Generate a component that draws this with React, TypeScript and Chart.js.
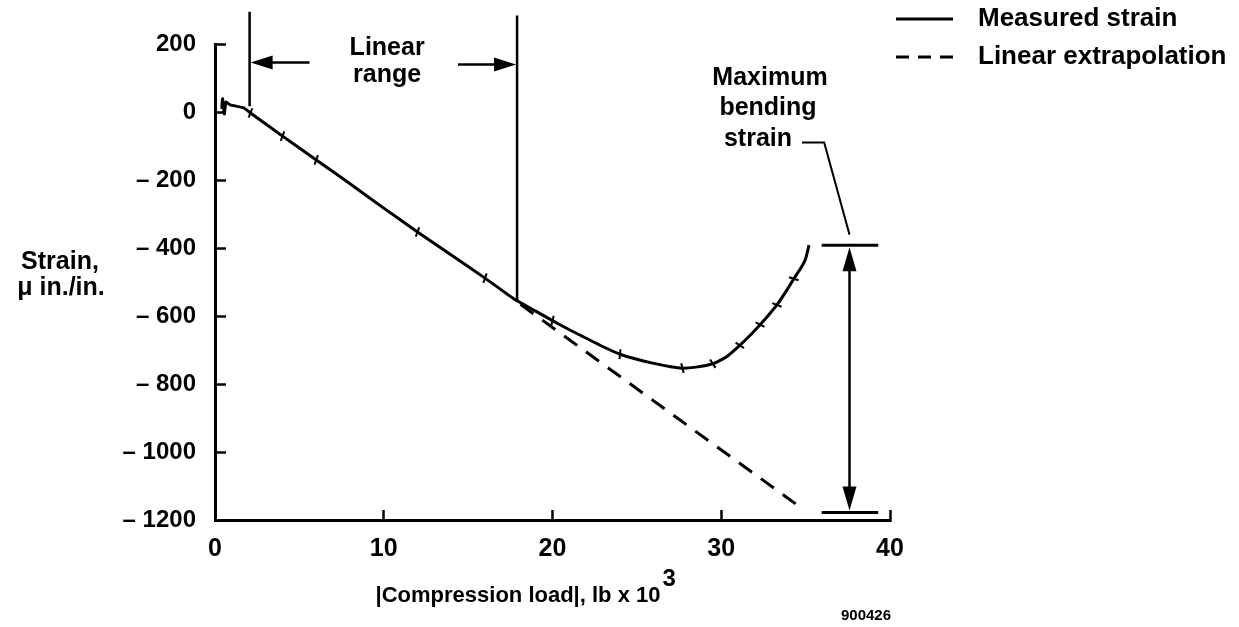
import { useEffect, useRef } from "react";
import { Chart, registerables } from "chart.js";

Chart.register(...registerables);

// Axis ticks
const loadTicks = [0, 10, 20, 30, 40];
const strainTicks = [200, 0, -200, -400, -600, -800, -1000, -1200];

// Measured strain vs |compression load| (lb x 10^3)
const measuredLoad = [
  0.4, 0.45, 0.55, 0.65, 0.9, 1.7, 2.1, 4, 6, 8, 10, 12, 14, 16, 17.8, 19, 20,
  21, 22, 23, 24, 25, 26, 27, 27.7, 28.5, 29.5, 30.3, 31.1, 31.7, 32.3, 32.8,
  33.3, 33.8, 34.3, 34.7, 35.0, 35.2,
];
const measuredStrain = [
  10, 40, -5, 30, 22, 13, -2, -70, -140, -210, -282, -352, -420, -488, -552,
  -585, -613, -640, -665, -690, -712, -727, -739, -749, -753, -750, -740, -720,
  -686, -657, -625, -597, -567, -530, -490, -460, -431, -391,
];
// Samples carrying a recorder tick mark
const markedSamples = [6, 7, 8, 11, 13, 16, 20, 24, 26, 28, 30, 32, 34];

// Linear fit of the linear range, extrapolated
const extrapLoad = [18.1, 34.7];
const extrapStrain = [-565, -1163];

// Linear range bounds (load) and the bending strain envelope (strain)
const linearRange = [2.05, 17.9];
const bendingStrainBounds = [-391, -1178];

const FONT = '"Liberation Sans", Arial, Helvetica, sans-serif';
const INK = "#000";

function arrowHead(
  ctx: CanvasRenderingContext2D,
  tipX: number,
  tipY: number,
  dx: number,
  dy: number,
  len: number,
  half: number
) {
  const bx = tipX - dx * len;
  const by = tipY - dy * len;
  ctx.beginPath();
  ctx.moveTo(tipX, tipY);
  ctx.lineTo(bx - dy * half, by + dx * half);
  ctx.lineTo(bx + dy * half, by - dx * half);
  ctx.closePath();
  ctx.fill();
}

function line(ctx: CanvasRenderingContext2D, x1: number, y1: number, x2: number, y2: number) {
  ctx.beginPath();
  ctx.moveTo(x1, y1);
  ctx.lineTo(x2, y2);
  ctx.stroke();
}

// Tick marks sit across the curve: rotate them to the local normal
function markRotation(c: any) {
  const i = c.dataIndex;
  const xs = c.chart.scales.x;
  const ys = c.chart.scales.y;
  if (!xs || !ys) return 0;
  const a = Math.max(0, i - 1);
  const b = Math.min(measuredLoad.length - 1, i + 1);
  const dx = xs.getPixelForValue(measuredLoad[b]) - xs.getPixelForValue(measuredLoad[a]);
  const dy = ys.getPixelForValue(measuredStrain[b]) - ys.getPixelForValue(measuredStrain[a]);
  return (Math.atan2(dy, dx) * 180) / Math.PI + 75;
}

const annotations = {
  id: "figureAnnotations",
  afterDraw(chart: any) {
    const { ctx, scales } = chart;
    const xs = scales.x;
    const ys = scales.y;
    const px = (v: number) => xs.getPixelForValue(v);
    const py = (v: number) => ys.getPixelForValue(v);

    ctx.save();
    ctx.fillStyle = INK;
    ctx.strokeStyle = INK;
    ctx.lineCap = "butt";

    // Linear range markers
    ctx.lineWidth = 2.5;
    const [lo, hi] = linearRange;
    line(ctx, px(lo), py(296), px(lo), py(18));
    line(ctx, px(hi), py(285), px(hi), py(-552));
    const arrowY = py(147);
    line(ctx, px(5.6), arrowY, px(lo) + 10, arrowY);
    arrowHead(ctx, px(lo) + 1, arrowY, -1, 0, 22, 7);
    line(ctx, px(14.4), arrowY + 2, px(hi) - 10, arrowY + 2);
    arrowHead(ctx, px(hi) - 1, arrowY + 2, 1, 0, 22, 7);

    ctx.font = `bold 25px ${FONT}`;
    ctx.textAlign = "center";
    ctx.textBaseline = "middle";
    ctx.fillText("Linear", px(10.2), 48);
    ctx.fillText("range", px(10.2), 75);

    // Maximum bending strain envelope
    const [top, bottom] = bendingStrainBounds;
    ctx.lineWidth = 3;
    line(ctx, px(35.95), py(top), px(39.3), py(top));
    line(ctx, px(35.95), py(bottom), px(39.3), py(bottom));
    const ax = px(37.6);
    ctx.lineWidth = 2.5;
    line(ctx, ax, py(top) + 18, ax, py(bottom) - 18);
    arrowHead(ctx, ax, py(top) + 2, 0, -1, 24, 7);
    arrowHead(ctx, ax, py(bottom) - 2, 0, 1, 24, 7);

    ctx.fillText("Maximum", 770, 78);
    ctx.fillText("bending", 768, 108);
    ctx.textAlign = "right";
    ctx.fillText("strain", 792, 139);
    ctx.lineWidth = 2;
    ctx.beginPath();
    ctx.moveTo(802, py(-89));
    ctx.lineTo(px(36.1), py(-89));
    ctx.lineTo(ax, py(-360));
    ctx.stroke();

    // Legend
    const legendX0 = 896;
    const legendX1 = 953;
    const measured = chart.data.datasets[0];
    const extrap = chart.data.datasets[1];
    ctx.lineWidth = measured.borderWidth;
    line(ctx, legendX0, 19, legendX1, 19);
    ctx.lineWidth = extrap.borderWidth;
    ctx.setLineDash([13, 9]);
    line(ctx, legendX0, 57, legendX1, 57);
    ctx.setLineDash([]);
    ctx.textAlign = "left";
    ctx.font = `bold 26px ${FONT}`;
    ctx.fillText(measured.label, 978, 19);
    ctx.fillText(extrap.label, 978, 57);

    // Axis titles
    ctx.font = `bold 25px ${FONT}`;
    ctx.textAlign = "center";
    ctx.fillText("Strain,", 60, 262);
    ctx.fillText("\u03bc in./in.", 61, 288);

    ctx.font = `bold 22px ${FONT}`;
    ctx.textAlign = "left";
    const xTitle = "|Compression load|, lb x 10";
    const tw = ctx.measureText(xTitle).width;
    const tx = 518 - tw / 2;
    ctx.fillText(xTitle, tx, 596);
    ctx.font = `bold 24px ${FONT}`;
    ctx.fillText("3", tx + tw + 2, 579);

    ctx.font = `bold 15px ${FONT}`;
    ctx.textAlign = "center";
    ctx.fillText("900426", 866, 616);

    ctx.restore();
  },
};

export default function App() {
  const canvasRef = useRef<HTMLCanvasElement | null>(null);

  useEffect(() => {
    const canvas = canvasRef.current;
    if (!canvas) return;

    const chart = new Chart(canvas, {
      type: "line",
      data: {
        datasets: [
          {
            label: "Measured strain",
            data: measuredLoad.map((x, i) => ({ x, y: measuredStrain[i] })),
            borderColor: INK,
            borderWidth: 3,
            pointStyle: "line",
            pointRadius: (c: any) => (markedSamples.includes(c.dataIndex) ? 5 : 0),
            pointBorderWidth: 2,
            pointBorderColor: INK,
            pointRotation: markRotation,
            tension: 0.15,
            fill: false,
          },
          {
            label: "Linear extrapolation",
            data: extrapLoad.map((x, i) => ({ x, y: extrapStrain[i] })),
            borderColor: INK,
            borderWidth: 3,
            borderDash: [16, 11],
            pointRadius: 0,
            fill: false,
          },
        ],
      },
      options: {
        responsive: false,
        animation: false,
        events: [],
        layout: { padding: { left: 0, top: 41, right: 349, bottom: 0 } },
        plugins: {
          legend: { display: false },
          tooltip: { enabled: false },
          title: { display: false },
        },
        scales: {
          x: {
            type: "linear",
            position: "bottom",
            min: 0,
            max: 40,
            afterBuildTicks: (s: any) => {
              s.ticks = loadTicks.map((value) => ({ value }));
            },
            afterFit: (s: any) => {
              s.height = 107;
            },
            border: { display: true, color: INK, width: 3 },
            grid: {
              display: true,
              drawOnChartArea: false,
              drawTicks: true,
              tickLength: -10,
              tickColor: INK,
              tickWidth: 2.5,
              color: INK,
            },
            ticks: {
              color: INK,
              padding: 24,
              maxRotation: 0,
              autoSkip: false,
              font: { family: FONT, size: 25, weight: "bold" },
            },
          },
          y: {
            type: "linear",
            position: "left",
            min: -1200,
            max: 200,
            afterBuildTicks: (s: any) => {
              s.ticks = strainTicks.map((value) => ({ value }));
            },
            afterFit: (s: any) => {
              s.width = 215;
            },
            border: { display: true, color: INK, width: 3 },
            grid: {
              display: true,
              drawOnChartArea: false,
              drawTicks: true,
              tickLength: -11,
              tickColor: INK,
              tickWidth: 2.5,
              color: INK,
            },
            ticks: {
              color: INK,
              padding: 30,
              autoSkip: false,
              font: { family: FONT, size: 24, weight: "bold" },
              callback: (v: any) => (Number(v) < 0 ? `\u2013 ${Math.abs(Number(v))}` : `${v}`),
            },
          },
        },
      },
      plugins: [annotations],
    });

    return () => chart.destroy();
  }, []);

  return (
    <div style={{ position: "absolute", left: 0, top: 0, width: 1239, height: 627, background: "#fff" }}>
      <canvas ref={canvasRef} width={1239} height={627} style={{ display: "block", width: 1239, height: 627 }} />
    </div>
  );
}
